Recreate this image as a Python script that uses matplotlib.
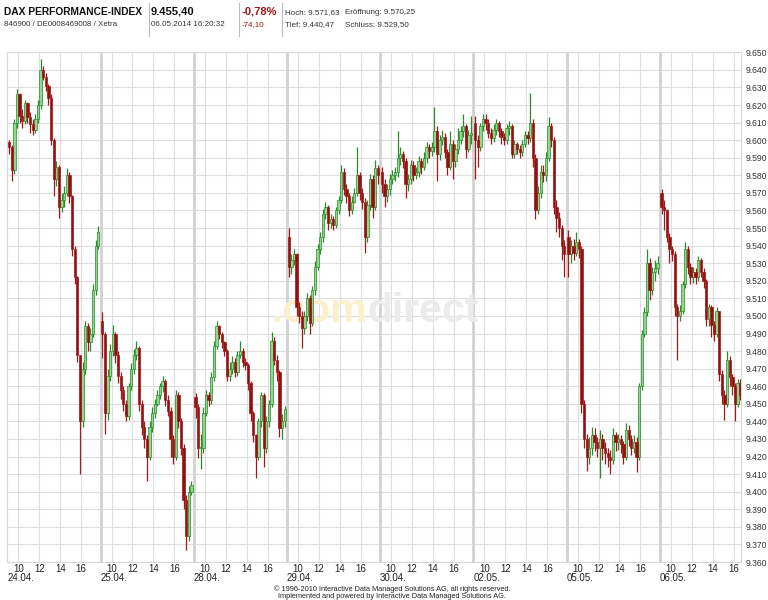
import matplotlib
matplotlib.use('Agg')
import matplotlib.pyplot as plt
from matplotlib.lines import Line2D
from matplotlib.ticker import FuncFormatter
import numpy as np

plt.rcParams['font.family'] = ['Liberation Sans', 'DejaVu Sans']

# trading days shown on the x axis
days = ['24.04.', '25.04.', '28.04.', '29.04.', '30.04.', '02.05.', '05.05.', '06.05.']
hour_ticks = [10, 12, 14, 16]
y_ticks = list(range(9360, 9651, 10))

# 15 minute candles (open of candle i = close of candle i-1)
open_2404 = 9599
close_2404 = [9596, 9583, 9610, 9626, 9614, 9611, 9621, 9613, 9609, 9606, 9612, 9620, 9640, 9636, 9631, 9624, 9600, 9578,
              9585, 9562, 9566, 9570, 9580, 9568, 9538, 9522, 9478, 9440, 9470, 9494, 9485, 9490, 9515, 9540, 9548]
high_2404 = [9600, 9597, 9612, 9629, 9627, 9618, 9623, 9622, 9616, 9612, 9615, 9623, 9646, 9642, 9638, 9632, 9626, 9601,
             9588, 9586, 9570, 9574, 9584, 9582, 9569, 9540, 9523, 9478, 9474, 9497, 9496, 9493, 9518, 9543, 9551]
low_2404 = [9592, 9577, 9581, 9607, 9610, 9607, 9609, 9610, 9604, 9603, 9604, 9610, 9618, 9634, 9628, 9620, 9597, 9568,
            9574, 9556, 9559, 9562, 9568, 9564, 9534, 9518, 9474, 9410, 9437, 9467, 9480, 9480, 9488, 9512, 9538]

open_2504 = 9497
close_2504 = [9490, 9445, 9466, 9480, 9490, 9478, 9466, 9458, 9450, 9443, 9460, 9470, 9478, 9482, 9450, 9437, 9430, 9420,
              9437, 9445, 9450, 9455, 9460, 9463, 9452, 9446, 9430, 9420, 9455, 9440, 9425, 9395, 9375, 9400, 9404]
high_2504 = [9502, 9491, 9470, 9484, 9495, 9491, 9480, 9468, 9460, 9452, 9462, 9473, 9481, 9486, 9483, 9452, 9440, 9432,
             9440, 9448, 9453, 9458, 9462, 9466, 9464, 9455, 9448, 9432, 9458, 9457, 9442, 9427, 9398, 9403, 9406]
low_2504 = [9476, 9433, 9441, 9463, 9477, 9473, 9462, 9453, 9446, 9440, 9441, 9458, 9467, 9475, 9446, 9432, 9425, 9406,
            9418, 9434, 9442, 9449, 9453, 9457, 9449, 9443, 9420, 9416, 9418, 9436, 9421, 9390, 9367, 9372, 9398]

open_2804 = 9454
close_2804 = [9448, 9425, 9425, 9445, 9455, 9452, 9465, 9483, 9494, 9490, 9485, 9480, 9466, 9470, 9474, 9468, 9478, 9480,
              9474, 9472, 9462, 9445, 9432, 9420, 9440, 9455, 9425, 9440, 9450, 9486, 9475, 9468, 9436, 9440, 9447]
high_2804 = [9456, 9450, 9433, 9448, 9458, 9457, 9468, 9486, 9497, 9495, 9491, 9486, 9481, 9474, 9477, 9476, 9480, 9486,
             9482, 9476, 9473, 9463, 9446, 9433, 9442, 9457, 9456, 9443, 9452, 9491, 9488, 9478, 9469, 9444, 9449]
low_2804 = [9442, 9419, 9413, 9422, 9443, 9449, 9450, 9463, 9481, 9487, 9482, 9477, 9463, 9463, 9467, 9465, 9466, 9476,
            9471, 9469, 9458, 9440, 9428, 9408, 9418, 9437, 9414, 9422, 9437, 9448, 9472, 9463, 9431, 9430, 9437]

open_2904 = 9545
close_2904 = [9528, 9532, 9535, 9505, 9500, 9493, 9500, 9510, 9496, 9515, 9528, 9538, 9545, 9558, 9562, 9553, 9555, 9552,
              9560, 9566, 9582, 9572, 9568, 9560, 9565, 9570, 9580, 9570, 9565, 9545, 9563, 9578, 9562, 9584, 9580]
high_2904 = [9550, 9535, 9538, 9536, 9508, 9503, 9503, 9513, 9512, 9517, 9531, 9541, 9548, 9561, 9565, 9563, 9558, 9557,
             9562, 9568, 9586, 9584, 9575, 9570, 9568, 9573, 9596, 9582, 9573, 9567, 9566, 9581, 9580, 9589, 9586]
low_2904 = [9522, 9524, 9529, 9500, 9496, 9482, 9490, 9497, 9490, 9494, 9512, 9526, 9535, 9542, 9555, 9549, 9550, 9549,
            9550, 9558, 9564, 9569, 9564, 9557, 9558, 9564, 9568, 9566, 9561, 9536, 9542, 9560, 9556, 9560, 9575]

open_3004 = 9582
close_3004 = [9575, 9568, 9572, 9578, 9580, 9582, 9590, 9592, 9588, 9575, 9578, 9586, 9580, 9582, 9588, 9585, 9590, 9596,
              9594, 9596, 9605, 9592, 9600, 9602, 9593, 9585, 9598, 9588, 9595, 9600, 9605, 9608, 9595, 9603, 9604]
high_3004 = [9585, 9578, 9575, 9581, 9583, 9585, 9605, 9596, 9594, 9590, 9581, 9589, 9588, 9585, 9591, 9590, 9593, 9599,
             9598, 9599, 9619, 9608, 9603, 9606, 9604, 9595, 9605, 9600, 9598, 9607, 9608, 9615, 9609, 9606, 9614]
low_3004 = [9570, 9562, 9565, 9569, 9575, 9577, 9579, 9586, 9584, 9567, 9571, 9575, 9577, 9578, 9579, 9581, 9583, 9587,
            9590, 9591, 9593, 9577, 9589, 9597, 9590, 9580, 9583, 9578, 9585, 9592, 9598, 9602, 9590, 9593, 9598]

open_0205 = 9610
close_0205 = [9600, 9596, 9608, 9612, 9610, 9604, 9601, 9606, 9610, 9605, 9602, 9600, 9607, 9608, 9592, 9598, 9595, 9593,
              9598, 9603, 9601, 9610, 9590, 9560, 9570, 9582, 9580, 9590, 9608, 9600, 9562, 9556, 9550, 9540, 9535]
high_0205 = [9614, 9603, 9610, 9615, 9615, 9612, 9607, 9609, 9612, 9611, 9607, 9604, 9609, 9611, 9609, 9600, 9599, 9597,
             9600, 9605, 9605, 9627, 9612, 9592, 9574, 9586, 9586, 9593, 9613, 9610, 9602, 9566, 9559, 9552, 9543]
low_0205 = [9578, 9585, 9594, 9605, 9606, 9601, 9598, 9599, 9603, 9602, 9598, 9597, 9598, 9603, 9590, 9590, 9592, 9590,
            9591, 9596, 9598, 9599, 9585, 9555, 9558, 9567, 9576, 9577, 9588, 9596, 9558, 9548, 9545, 9532, 9522]

open_0505 = 9545
close_0505 = [9535, 9540, 9536, 9542, 9538, 9450, 9430, 9420, 9425, 9432, 9428, 9425, 9430, 9425, 9422, 9420, 9418, 9432,
              9428, 9430, 9427, 9420, 9435, 9430, 9425, 9428, 9420, 9460, 9490, 9502, 9530, 9515, 9525, 9527, 9530]
high_0505 = [9549, 9543, 9544, 9548, 9544, 9540, 9452, 9433, 9431, 9437, 9436, 9431, 9435, 9433, 9428, 9425, 9424, 9436,
             9434, 9433, 9432, 9429, 9439, 9438, 9432, 9432, 9431, 9462, 9492, 9505, 9538, 9533, 9528, 9532, 9534]
low_0505 = [9522, 9530, 9532, 9534, 9533, 9445, 9425, 9412, 9416, 9421, 9423, 9420, 9408, 9418, 9416, 9414, 9410, 9416,
            9423, 9424, 9422, 9416, 9418, 9426, 9421, 9422, 9411, 9418, 9458, 9488, 9500, 9509, 9512, 9520, 9524]

open_0605 = 9570
close_0605 = [9562, 9560, 9545, 9538, 9535, 9505, 9500, 9503, 9518, 9538, 9528, 9522, 9525, 9522, 9532, 9525, 9520, 9498,
              9505, 9495, 9490, 9503, 9467, 9455, 9450, 9475, 9465, 9460, 9450, 9462, 9455]
high_0605 = [9572, 9566, 9561, 9547, 9540, 9537, 9507, 9506, 9520, 9542, 9540, 9530, 9528, 9527, 9534, 9533, 9527, 9521,
             9507, 9506, 9497, 9505, 9503, 9469, 9458, 9480, 9477, 9467, 9462, 9464, 9464]
low_0605 = [9558, 9549, 9542, 9530, 9531, 9500, 9475, 9497, 9501, 9516, 9524, 9518, 9519, 9518, 9520, 9522, 9516, 9494,
            9494, 9488, 9486, 9488, 9463, 9450, 9441, 9448, 9460, 9455, 9440, 9448, 9452]

sessions = [
    (open_2404, close_2404, high_2404, low_2404),
    (open_2504, close_2504, high_2504, low_2504),
    (open_2804, close_2804, high_2804, low_2804),
    (open_2904, close_2904, high_2904, low_2904),
    (open_3004, close_3004, high_3004, low_3004),
    (open_0205, close_0205, high_0205, low_0205),
    (open_0505, close_0505, high_0505, low_0505),
    (open_0605, close_0605, high_0605, low_0605),
]

DAY_W = 8.886   # hours of axis space per trading day (9:00 - ~17:53)
SLOT = 0.25     # 15 minute candles
W, H = 768, 600

fig = plt.figure(figsize=(W / 100, H / 100), dpi=100)
fig.set_facecolor('white')

left_px, right_px, top_px, bottom_px = 7.3, 741.0, 52.3, 562.0
ax = fig.add_axes([left_px / W, 1 - bottom_px / H, (right_px - left_px) / W, (bottom_px - top_px) / H])
ax.set_facecolor('white')

# grid
for v in y_ticks:
    ax.axhline(v, color='#dedede', lw=0.8, zorder=0)
hour_pos = []
for d in range(len(days)):
    for h in hour_ticks:
        hour_pos.append(d * DAY_W + (h - 9))
for xp in hour_pos:
    ax.axvline(xp, color='#dedede', lw=0.8, zorder=0)
for d in range(1, len(days)):
    ax.axvline(d * DAY_W - 0.05, color='#d2d2d2', lw=2.0, zorder=0.5)

# watermark
wm = ax.text(0.360, 0.470, '.com', transform=ax.transAxes, fontsize=29.5, fontweight='bold',
             color='#fbf0cc', ha='left', va='baseline', zorder=1)
ax.annotate('direct', xy=(1, 0), xycoords=wm, fontsize=29.5, fontweight='bold',
            color='#ebebeb', ha='left', va='bottom', zorder=1)

# candles
up_face, up_edge = '#8ed88e', '#2b8a2b'
dn_face, dn_edge = '#8e1414', '#a31818'
for d, (o0, c, h, l) in enumerate(sessions):
    c = np.array(c, dtype=float)
    o = np.concatenate([[o0], c[:-1]])
    h = np.maximum(np.array(h, dtype=float), np.maximum(o, c))
    l = np.minimum(np.array(l, dtype=float), np.minimum(o, c))
    x = d * DAY_W + SLOT * (np.arange(len(c)) + 0.5)
    up = c >= o
    dn = ~up
    ax.vlines(x[up], l[up], h[up], color=up_edge, lw=0.9, zorder=3)
    ax.vlines(x[dn], l[dn], h[dn], color=dn_edge, lw=0.9, zorder=3)
    ax.bar(x[up], np.maximum(c[up] - o[up], 0.6), bottom=o[up], width=0.22,
           color=up_face, edgecolor=up_edge, lw=0.5, zorder=4)
    ax.bar(x[dn], np.maximum(o[dn] - c[dn], 0.6), bottom=c[dn], width=0.22,
           color=dn_face, edgecolor=dn_edge, lw=0.5, zorder=4)

ax.set_xlim(-0.05, 7 * DAY_W + 7.7)
ax.set_ylim(9360, 9650)

# y axis on the right, german number format
ax.yaxis.tick_right()
ax.set_yticks(y_ticks)
ax.yaxis.set_major_formatter(FuncFormatter(lambda v, _: f"{v:,.0f}".replace(',', '.')))
ax.tick_params(axis='y', length=0, pad=3, labelsize=6.2, labelcolor='#333333')

# x axis: hours plus date below
ax.set_xticks(hour_pos)
ax.set_xticklabels([str(h) for d in days for h in hour_ticks])
ax.tick_params(axis='x', length=0, pad=1.5, labelsize=7, labelcolor='#222222')
for d, lab in enumerate(days):
    ax.text(d * DAY_W - 0.05, -0.0215, lab, transform=ax.get_xaxis_transform(),
            ha='left', va='top', fontsize=7, color='#222222')

for s in ax.spines.values():
    s.set_color('#d8d8d8')
    s.set_linewidth(0.8)


def fy(px):
    return 1 - px / H


# header
fig.text(4 / W, fy(12), 'DAX PERFORMANCE-INDEX', fontsize=7.4, fontweight='bold', color='#111111', va='center')
fig.text(4 / W, fy(25), '846900 / DE0008469008 / Xetra', fontsize=5.7, color='#333333', va='center')
fig.text(151 / W, fy(12), '9.455,40', fontsize=8, fontweight='bold', color='#111111', va='center')
fig.text(151 / W, fy(25), '06.05.2014 16:20:32', fontsize=5.8, color='#333333', va='center')
fig.text(242 / W, fy(12), '-0,78%', fontsize=8, fontweight='bold', color='#a01414', va='center')
fig.text(242 / W, fy(25), '-74,10', fontsize=5.8, color='#a01414', va='center')
fig.text(285 / W, fy(13), 'Hoch: 9.571,63', fontsize=5.8, color='#333333', va='center')
fig.text(345 / W, fy(13), 'Eröffnung: 9.570,25', fontsize=5.8, color='#333333', va='center')
fig.text(285 / W, fy(25), 'Tief: 9.440,47', fontsize=5.8, color='#333333', va='center')
fig.text(345 / W, fy(25), 'Schluss: 9.529,50', fontsize=5.8, color='#333333', va='center')
for sx in [148.5, 238.5, 282]:
    fig.add_artist(Line2D([sx / W, sx / W], [fy(3), fy(36)], color='#bbbbbb', lw=0.8))

# footer
fig.text(392 / W, fy(589), '\u00a9 1996-2010 Interactive Data Managed Solutions AG, all rights reserved.',
         fontsize=5.3, color='#222222', ha='center', va='center')
fig.text(392 / W, fy(597), 'Implemented and powered by Interactive Data Managed Solutions AG.',
         fontsize=5.3, color='#222222', ha='center', va='center')

fig.savefig('out.png', dpi=100, facecolor='white')
